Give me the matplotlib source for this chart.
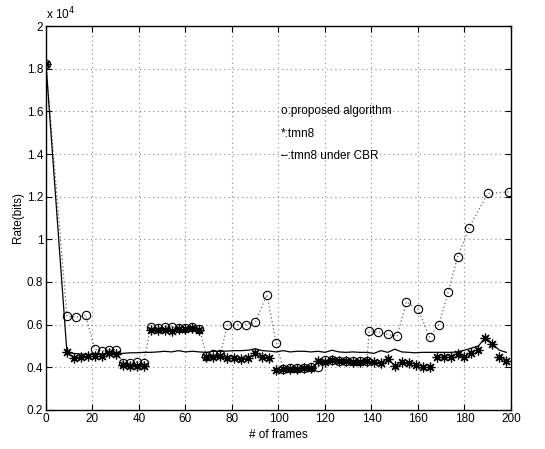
import matplotlib
matplotlib.use("Agg")
import matplotlib.pyplot as plt
import numpy as np

# proposed algorithm (circles, dotted)
prop_frames = [0, 9, 13, 17, 21, 24, 27, 30, 33, 36, 39, 42,
               45, 48, 51, 54, 57, 60, 63, 66, 69, 72, 75,
               78, 82, 86, 90, 95, 99,
               102, 105, 108, 111, 114, 117, 120, 123, 126, 129, 132, 135, 138,
               139, 143, 147, 151, 155, 160, 165, 169, 173, 177, 182, 190, 199]
prop_rate = [1.82, 0.64, 0.635, 0.645, 0.485, 0.475, 0.482, 0.482, 0.422, 0.42, 0.425, 0.42,
             0.59, 0.585, 0.59, 0.59, 0.585, 0.585, 0.59, 0.58, 0.455, 0.46, 0.46,
             0.60, 0.60, 0.60, 0.61, 0.74, 0.515,
             0.39, 0.395, 0.395, 0.395, 0.40, 0.40, 0.435, 0.435, 0.43, 0.43, 0.43, 0.43, 0.43,
             0.568, 0.565, 0.554, 0.545, 0.707, 0.672, 0.542, 0.60, 0.755, 0.915, 1.055, 1.215, 1.222]

# tmn8 (asterisks)
tmn8_frames = [0] + list(range(9, 199, 3))
tmn8_rate = [1.82, 0.47, 0.445, 0.45, 0.455, 0.455, 0.455, 0.465, 0.46,
             0.41, 0.405, 0.405, 0.405,
             0.575, 0.575, 0.575, 0.57, 0.58, 0.58, 0.585, 0.575,
             0.45, 0.45, 0.455, 0.445, 0.445, 0.44, 0.445, 0.465, 0.45, 0.445,
             0.385, 0.39, 0.39, 0.39, 0.395, 0.395,
             0.43, 0.425, 0.435, 0.43, 0.43, 0.425, 0.425, 0.43,
             0.424, 0.419, 0.44, 0.405, 0.427, 0.42, 0.413, 0.40, 0.40,
             0.45, 0.45, 0.45, 0.463, 0.45, 0.466, 0.48, 0.537, 0.51, 0.45, 0.43]

# tmn8 under CBR (solid)
cbr_frames = [0] + list(range(9, 199, 3))
cbr_rate = [1.82, 0.47, 0.465, 0.462, 0.46, 0.46, 0.462, 0.465, 0.465,
            0.465, 0.468, 0.468, 0.47,
            0.47, 0.472, 0.475, 0.472, 0.478, 0.472, 0.475, 0.472,
            0.47, 0.475, 0.475, 0.476, 0.478, 0.478, 0.48, 0.487, 0.478, 0.476,
            0.472, 0.478, 0.472, 0.475, 0.475, 0.472,
            0.475, 0.47, 0.48, 0.472, 0.47, 0.472, 0.47, 0.47,
            0.465, 0.478, 0.47, 0.485, 0.472, 0.47, 0.468, 0.47, 0.47,
            0.47, 0.47, 0.47, 0.472, 0.48, 0.49, 0.5, 0.54, 0.51, 0.48, 0.47]

plt.rcParams['font.family'] = ['Liberation Sans', 'DejaVu Sans']

fig = plt.figure(figsize=(5.45, 4.49), dpi=100)
ax = fig.add_axes([0.0844, 0.087, 0.8532, 0.855])

ax.plot(prop_frames, prop_rate, color='#666666', linestyle=(0, (1, 2)), linewidth=0.9,
        marker='o', markersize=6, markerfacecolor='none', markeredgecolor='black',
        markeredgewidth=0.8)
ax.plot(tmn8_frames, tmn8_rate, linestyle='none', marker=(8, 2, 0), markersize=7,
        color='black', markeredgewidth=0.9)
ax.plot(cbr_frames, cbr_rate, color='black', linewidth=0.9)

ax.set_xlim(0, 200)
ax.set_ylim(0.2, 2.0)
ax.set_xticks(np.arange(0, 201, 20))
ax.set_yticks([0.2, 0.4, 0.6, 0.8, 1.0, 1.2, 1.4, 1.6, 1.8, 2.0])
ax.set_yticklabels(['0.2', '0.4', '0.6', '0.8', '1', '1.2', '1.4', '1.6', '1.8', '2'])
ax.grid(True, linestyle=(0, (1, 3)), color='#888888', linewidth=0.8)
ax.tick_params(direction='in', top=True, right=True, labelsize=8.5, length=4, pad=2)
for s in ax.spines.values():
    s.set_linewidth(1.0)

ax.set_xlabel('# of frames', fontsize=8.5, labelpad=3)
ax.set_ylabel('Rate(bits)', fontsize=8.5, labelpad=2)
ax.text(0.0, 1.01, r'x 10$^4$', transform=ax.transAxes, fontsize=8.5, va='bottom', ha='left')

ax.text(101, 1.6, 'o:proposed algorithm', fontsize=8.5, va='center')
ax.text(101, 1.495, '*:tmn8', fontsize=8.5, va='center')
ax.text(101, 1.39, '\u2013:tmn8 under CBR', fontsize=8.5, va='center')

fig.savefig('out.png', dpi=100)
